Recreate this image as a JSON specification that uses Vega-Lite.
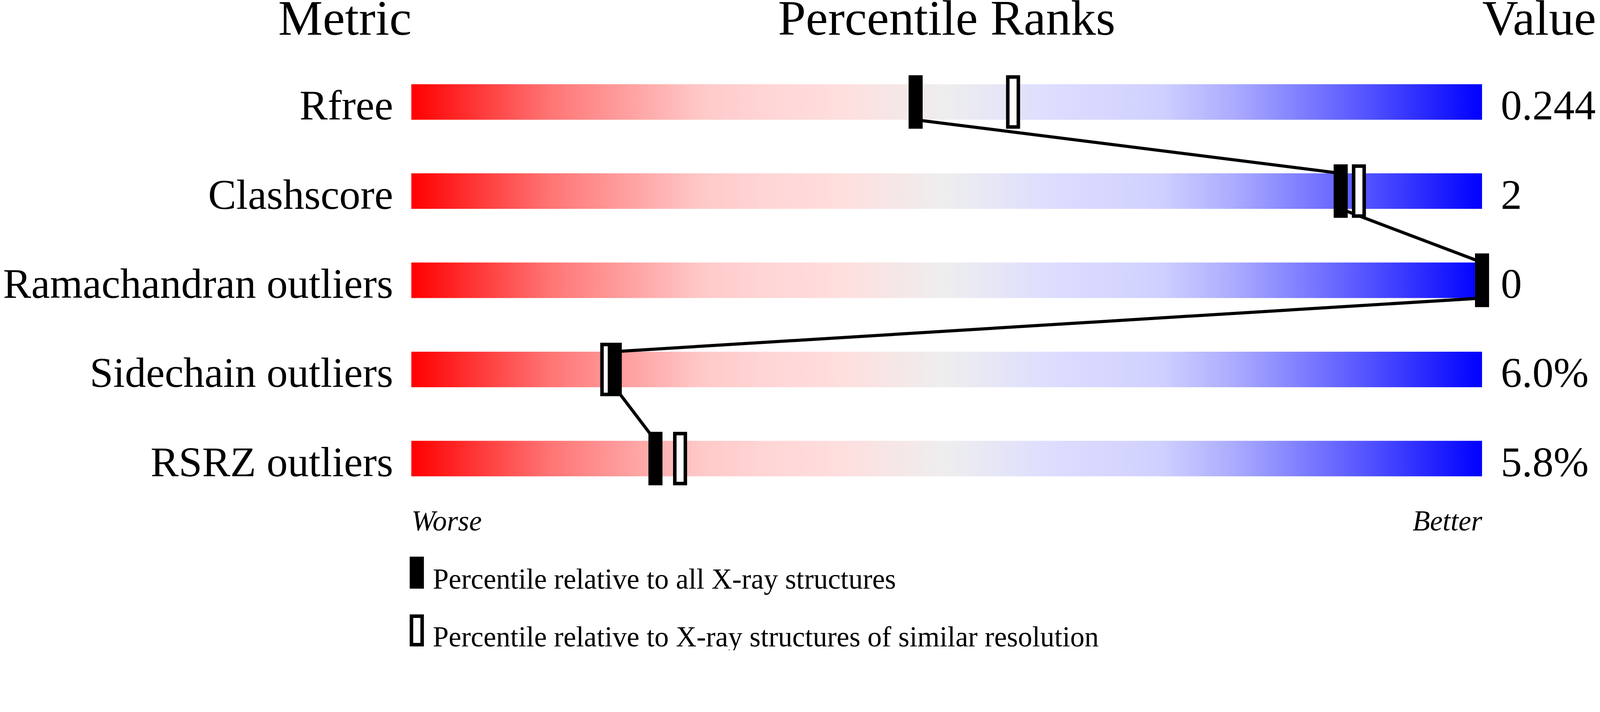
{
  "$schema": "https://vega.github.io/schema/vega-lite/v6.json",
  "width": 2741,
  "height": 1142,
  "autosize": {"type": "none"},
  "padding": {"left": 1053, "top": 147, "right": 303, "bottom": 377},
  "background": "white",
  "config": {
    "font": "Liberation Serif",
    "view": {"stroke": null},
    "axis": {
      "domain": false,
      "ticks": false,
      "tickSize": 0,
      "grid": false,
      "labelColor": "black",
      "titleColor": "black",
      "labelFont": "Liberation Serif",
      "titleFont": "Liberation Serif",
      "titleFontWeight": "normal",
      "titleFontSize": 128,
      "labelLimit": 0
    }
  },
  "datasets": {
    "metrics": [
      {"metric": "Rfree", "value": "0.244", "all": 47.1, "similar": 56.2},
      {"metric": "Clashscore", "value": "2", "all": 86.8, "similar": 88.5},
      {"metric": "Ramachandran outliers", "value": "0", "all": 100, "similar": 100},
      {"metric": "Sidechain outliers", "value": "6.0%", "all": 19.0, "similar": 18.3},
      {"metric": "RSRZ outliers", "value": "5.8%", "all": 22.8, "similar": 25.1}
    ],
    "link": [
      {"metric": "Rfree", "end": "top"},
      {"metric": "Rfree", "end": "bottom"},
      {"metric": "Clashscore", "end": "top"},
      {"metric": "Clashscore", "end": "bottom"},
      {"metric": "Ramachandran outliers", "end": "top"},
      {"metric": "Ramachandran outliers", "end": "bottom"},
      {"metric": "Sidechain outliers", "end": "top"},
      {"metric": "Sidechain outliers", "end": "bottom"},
      {"metric": "RSRZ outliers", "end": "top"},
      {"metric": "RSRZ outliers", "end": "bottom"}
    ]
  },
  "resolve": {"axis": {"x": "independent", "y": "independent"}},
  "layer": [
    {
      "data": {"name": "metrics"},
      "mark": {
        "type": "bar",
        "height": 91,
        "color": {
          "gradient": "linear",
          "x1": 0, "x2": 1, "y1": 0, "y2": 0,
          "stops": [
            {"offset": 0, "color": "#ff0000"},
            {"offset": 0.13, "color": "#ff7575"},
            {"offset": 0.27, "color": "#ffc8c8"},
            {"offset": 0.33, "color": "#ffd5d5"},
            {"offset": 0.4, "color": "#ffdede"},
            {"offset": 0.5, "color": "#eeeeee"},
            {"offset": 0.59, "color": "#dedeff"},
            {"offset": 0.7, "color": "#d0d0ff"},
            {"offset": 0.77, "color": "#aaaaff"},
            {"offset": 0.89, "color": "#5555ff"},
            {"offset": 1, "color": "#0000ff"}
          ]
        }
      },
      "encoding": {
        "x": {
          "datum": 0,
          "type": "quantitative",
          "scale": {"domain": [0, 100], "nice": false, "zero": false},
          "axis": {
            "orient": "bottom",
            "title": null,
            "values": [0, 100],
            "labelExpr": "datum.value == 0 ? 'Worse' : 'Better'",
            "labelFlush": true,
            "labelFontStyle": "italic",
            "labelFontSize": 73,
            "labelBaseline": "alphabetic",
            "labelPadding": 69,
            "labelLimit": 0
          }
        },
        "x2": {"datum": 100},
        "y": {
          "field": "metric",
          "type": "nominal",
          "scale": {
            "domain": ["Rfree", "Clashscore", "Ramachandran outliers", "Sidechain outliers", "RSRZ outliers"],
            "paddingInner": 0,
            "paddingOuter": 0
          },
          "axis": {
            "orient": "left",
            "title": "Metric",
            "titleAngle": 0,
            "titleAlign": "right",
            "titleBaseline": "alphabetic",
            "titleX": 0,
            "titleY": -59,
            "labelFontSize": 108,
            "labelPadding": 47,
            "labelBaseline": "alphabetic",
            "labelOffset": 45,
            "labelLimit": 0
          }
        }
      }
    },
    {
      "data": {"name": "link"},
      "transform": [
        {"lookup": "metric", "from": {"data": {"name": "metrics"}, "key": "metric", "fields": ["all"]}}
      ],
      "mark": {"type": "line", "color": "black", "strokeWidth": 8},
      "encoding": {
        "x": {"field": "all", "type": "quantitative", "axis": null},
        "y": {"field": "metric", "type": "nominal", "axis": null},
        "yOffset": {
          "field": "end",
          "type": "nominal",
          "scale": {"domain": ["top", "bottom"], "paddingInner": 1, "paddingOuter": 0.75}
        },
        "order": {"value": null}
      }
    },
    {
      "data": {"name": "metrics"},
      "transform": [{"fold": ["similar", "all"], "as": ["set", "pct"]}],
      "mark": {
        "type": "tick",
        "thickness": 27,
        "size": 128,
        "stroke": "black",
        "strokeWidth": 9,
        "opacity": 1
      },
      "encoding": {
        "x": {
          "field": "pct",
          "type": "quantitative",
          "axis": {
            "orient": "top",
            "labels": false,
            "title": "Percentile Ranks",
            "titleX": 1370,
            "titleY": -59,
            "titleAlign": "center",
            "titleBaseline": "alphabetic"
          }
        },
        "y": {
          "field": "metric",
          "type": "nominal",
          "axis": {
            "orient": "right",
            "labels": false,
            "title": "Value",
            "titleAngle": 0,
            "titleAlign": "left",
            "titleBaseline": "alphabetic",
            "titleX": 0,
            "titleY": -59
          }
        },
        "color": {
          "field": "set",
          "type": "nominal",
          "scale": {"domain": ["all", "similar"], "range": ["black", "white"]},
          "legend": {
            "title": null,
            "orient": "none",
            "legendX": -27,
            "legendY": 1279,
            "direction": "vertical",
            "padding": 0,
            "symbolType": "M-0.375,-1H0.375V1H-0.375Z",
            "symbolSize": 5329,
            "symbolStrokeColor": "black",
            "symbolStrokeWidth": 9,
            "symbolOpacity": 1,
            "labelFont": "Liberation Serif",
            "labelFontSize": 73,
            "labelColor": "black",
            "labelOffset": 0,
            "labelLimit": 0,
            "rowPadding": 37,
            "labelExpr": "datum.value == 'all' ? 'Percentile relative to all X-ray structures' : 'Percentile relative to X-ray structures of similar resolution'",
            "encode": {"labels": {"update": {"dy": {"value": 19}}}}
          }
        }
      }
    },
    {
      "data": {"name": "metrics"},
      "mark": {
        "type": "text",
        "align": "left",
        "baseline": "alphabetic",
        "dx": 48,
        "dy": 45,
        "fontSize": 108,
        "font": "Liberation Serif",
        "color": "black"
      },
      "encoding": {
        "x": {"datum": 100, "type": "quantitative", "axis": null},
        "y": {"field": "metric", "type": "nominal", "axis": null},
        "text": {"field": "value", "type": "nominal"}
      }
    }
  ]
}
